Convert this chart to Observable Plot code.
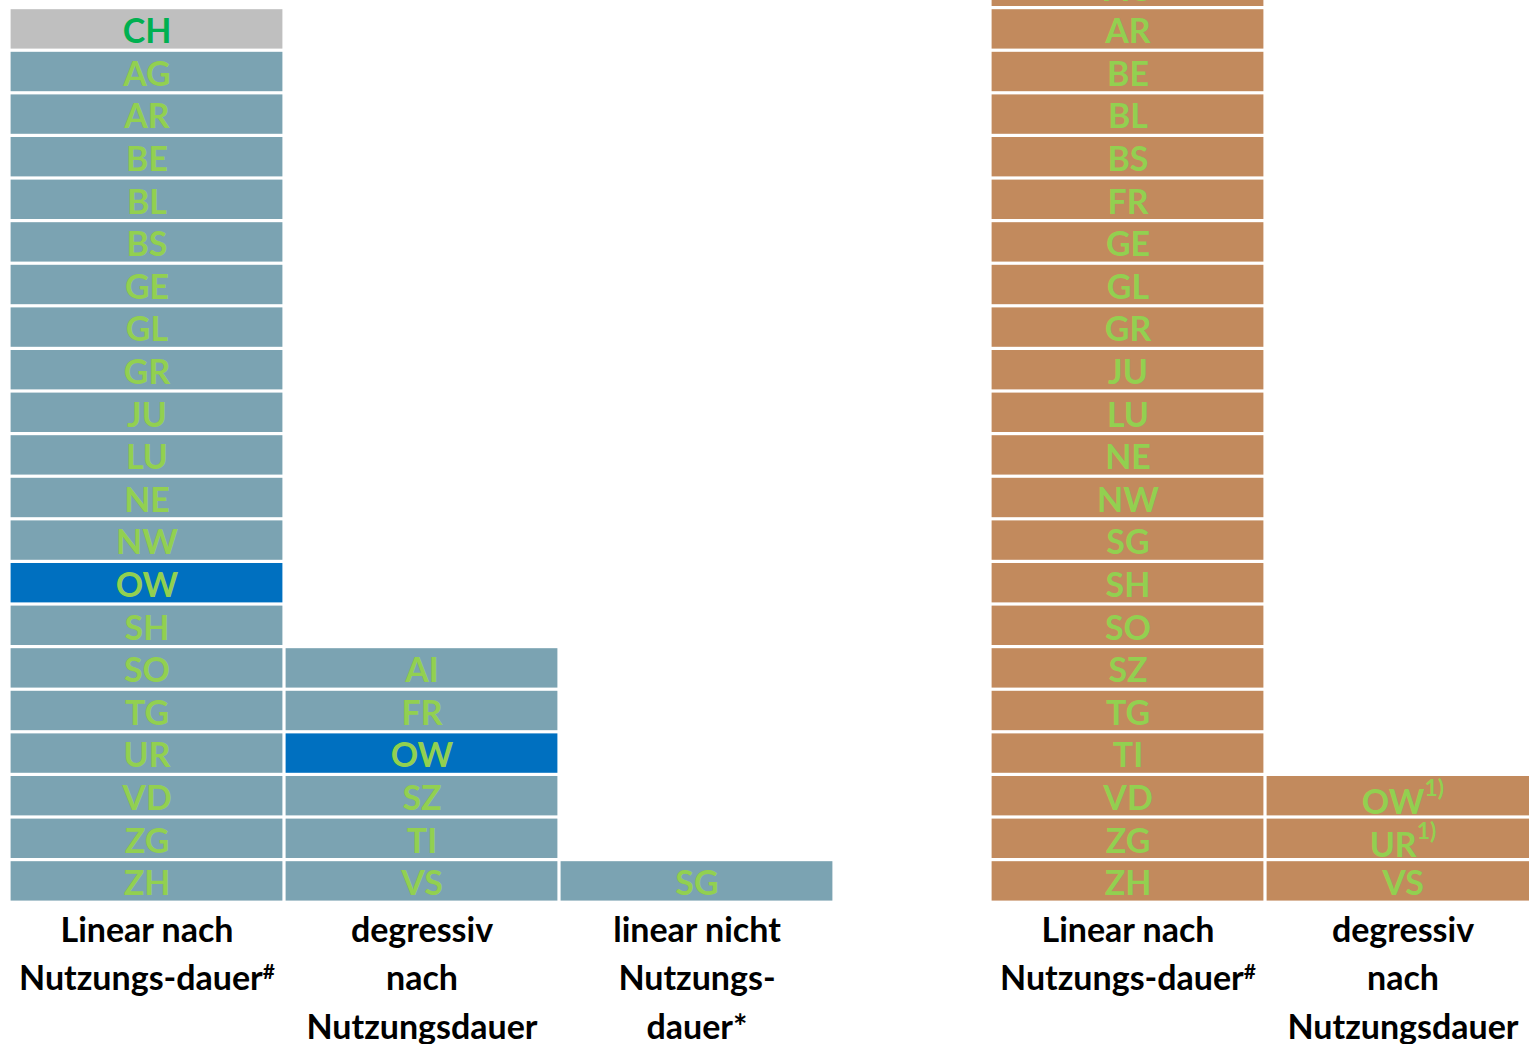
<!DOCTYPE html>
<html><head><meta charset="utf-8">
<script src="https://cdn.jsdelivr.net/npm/d3@7"></script>
<script src="https://cdn.jsdelivr.net/npm/@observablehq/plot@0.6"></script>
<style>
html,body{margin:0;padding:0;background:#fff;overflow:hidden;width:1529px;height:1044px;}
#wrap{position:relative;width:1529px;height:1044px;overflow:hidden;}
#left,#right{position:absolute;top:-35.2px;}
#left{left:0;width:834px;}
#right{left:989.5px;width:550px;}
#wrap svg{max-width:none !important;}
</style></head><body><div id="wrap"><div id="left"></div><div id="right"></div></div>
<script>
// Method column headings (axis tick labels)
const leftMethods = ["Linear nach\nNutzungs-dauer#", "degressiv\nnach\nNutzungsdauer", "linear nicht\nNutzungs-\ndauer*"];
const rightMethods = ["Linear nach\nNutzungs-dauer#", "degressiv\nnach\nNutzungsdauer"];

// Cantons per method, listed top to bottom
const leftLinear = ["CH","AG","AR","BE","BL","BS","GE","GL","GR","JU","LU","NE","NW","OW","SH","SO","TG","UR","VD","ZG","ZH"];
const leftDegressiv = ["AI","FR","OW","SZ","TI","VS"];
const leftLinearNicht = ["SG"];
const rightLinear = ["AG","AR","BE","BL","BS","FR","GE","GL","GR","JU","LU","NE","NW","SG","SH","SO","SZ","TG","TI","VD","ZG","ZH"];
const rightDegressiv = ["OW","UR","VS"];
const rightNotes = {OW: "1)", UR: "1)"};

const totalCode = "CH";
const focusCode = "OW";
const rowCount = 22;

const kinds = ["base","focus","total","right"];
const kindColors = ["#7BA3B2","#0070C0","#BFBFBF","#C28A5D"];

function cells(method, list, group, notes) {
  return list.map((c, i) => ({
    method, row: list.length - 1 - i, label: c, note: (notes && notes[c]) || "",
    kind: group === "right" ? "right" : (c === totalCode ? "total" : (c === focusCode ? "focus" : "base"))
  }));
}

const leftData = [
  ...cells(leftMethods[0], leftLinear, "left"),
  ...cells(leftMethods[1], leftDegressiv, "left"),
  ...cells(leftMethods[2], leftLinearNicht, "left")
];
const rightData = [
  ...cells(rightMethods[0], rightLinear, "right", rightNotes),
  ...cells(rightMethods[1], rightDegressiv, "right", rightNotes)
];

const rowPitch = 42.6, colPitch = 275, marginBottom = 150;
const font = "Lato, 'Open Sans', sans-serif";

function makePlot(data, methods, marginLeft) {
  const p = Plot.plot({
    width: marginLeft + methods.length * colPitch,
    height: rowCount * rowPitch + marginBottom,
    marginTop: 0, marginBottom, marginLeft, marginRight: 0,
    style: {fontFamily: font, background: "transparent", color: "#000", overflow: "visible", maxWidth: "none"},
    x: {domain: methods, padding: 0, round: false, axis: null},
    y: {domain: d3.range(rowCount - 1, -1, -1), padding: 0, round: false, axis: null},
    color: {domain: kinds, range: kindColors},
    marks: [
      Plot.cell(data, {x: "method", y: "row", fill: "kind", inset: 1.6}),
      Plot.text(data.filter(d => d.kind === "total"), {x: "method", y: "row", text: "label", fill: "#00B050", fontSize: 34, fontWeight: "bold", fontFamily: font, dy: 3}),
      Plot.text(data.filter(d => d.kind !== "total" && !d.note), {x: "method", y: "row", text: "label", fill: "#92D050", fontSize: 34, fontWeight: "bold", fontFamily: font, dy: 3}),
      Plot.text(data.filter(d => d.note), {x: "method", y: "row", text: d => d.label + d.note, fill: "#92D050", fontSize: 34, fontWeight: "bold", fontFamily: font, dy: 7}),
      Plot.axisX({tickSize: 0, tickPadding: 5, fontSize: 34, fontWeight: "bold", fontFamily: font, fill: "#000", lineHeight: 1.42, label: null, tickFormat: d => d})
    ]
  });
  // superscripts
  d3.select(p).selectAll("text, tspan").each(function() {
    const el = this;
    if (el.childElementCount > 0) return;
    const t = el.textContent;
    let base = null, sup = null, size = 20, shift = 10;
    if (t.endsWith("#")) { base = t.slice(0, -1); sup = "#"; size = 21; shift = 11; }
    else if (t.endsWith("1)")) { base = t.slice(0, -2); sup = "1)"; size = 23; shift = 18; }
    if (base === null) return;
    el.textContent = base;
    const s = document.createElementNS("http://www.w3.org/2000/svg", "tspan");
    s.textContent = sup;
    s.setAttribute("font-size", size);
    s.style.baselineShift = shift + "px";
    el.appendChild(s);
  });
  return p;
}

document.getElementById("left").appendChild(makePlot(leftData, leftMethods, 9));
document.getElementById("right").appendChild(makePlot(rightData, rightMethods, 0));
</script></body></html>
